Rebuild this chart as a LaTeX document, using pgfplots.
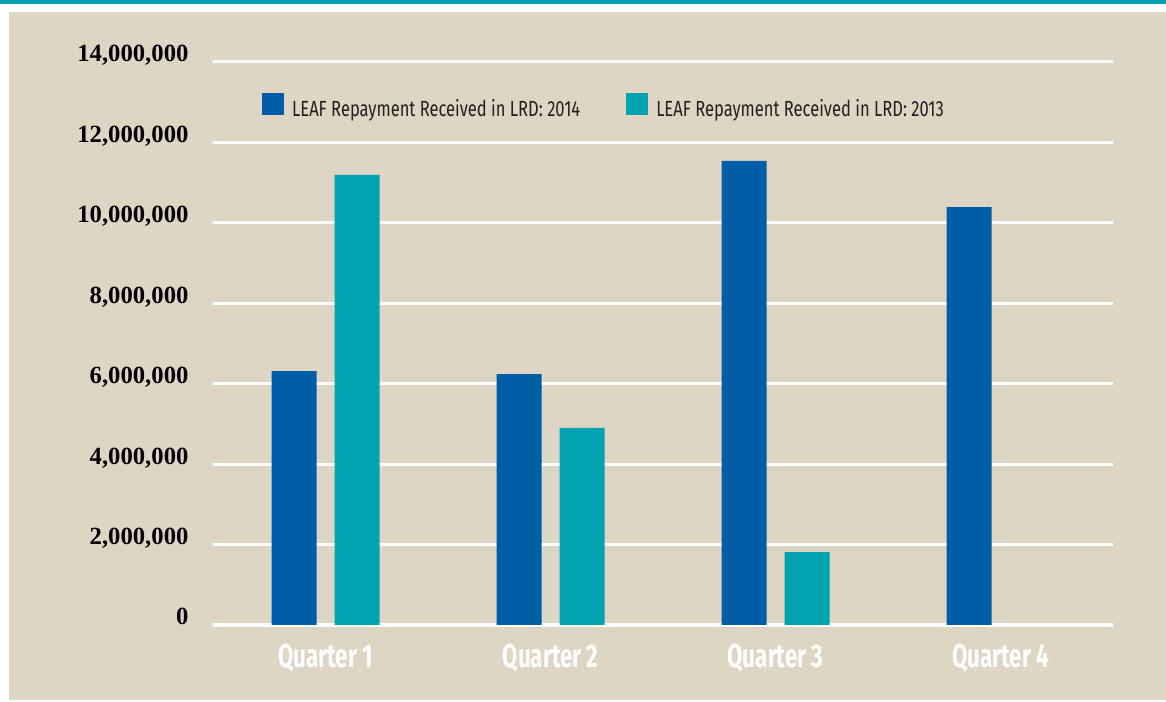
\documentclass[border=0pt]{standalone}
\usepackage{fontspec}
\setmainfont{Liberation Serif}
\newfontfamily\condfont[FakeStretch=0.755]{Fira Sans}
\newfontfamily\condbold[FakeStretch=0.68]{Fira Sans}
\usepackage{pgfplots}
\pgfplotsset{compat=1.18}

\definecolor{beige}{RGB}{222,214,196}
\definecolor{leafblue}{RGB}{0,94,168}
\definecolor{leafteal}{RGB}{0,163,175}
\definecolor{txt}{RGB}{35,31,32}

\begin{document}
\begin{tikzpicture}
\useasboundingbox (0,0) rectangle (1166bp,702bp);
% frame
\fill[leafteal] (0,697.5bp) rectangle (1166bp,702bp);
\fill[beige] (9bp,2bp) rectangle (1166bp,690bp);

\begin{axis}[
  scale only axis, width=900bp, height=563bp,
  at={(213bp,77bp)}, anchor=south west,
  axis line style={draw=none},
  xmin=-0.5, xmax=3.5, ymin=0, ymax=14000000,
  xtick={0,1,2,3},
  xticklabels={Quarter 1,Quarter 2,Quarter 3,Quarter 4},
  ytick={0,2000000,4000000,6000000,8000000,10000000,12000000,14000000},
  scaled y ticks=false,
  /pgf/number format/.cd, fixed, 1000 sep={,}, assume math mode=true,
  /pgfplots/.cd,
  ymajorgrids,
  major grid style={white, line width=3bp},
  major tick length=0pt,
  tick style={draw=none},
  yticklabel style={anchor=base east, xshift=-21bp, yshift=0bp,
    font=\fontsize{24.8}{24.8}\selectfont\bfseries, text=black},
  xticklabel style={anchor=base, yshift=-42bp,
    font=\condbold\fontsize{33}{33}\selectfont\bfseries, text=white},
  ybar, bar width=45bp,
  legend columns=2,
  legend style={at={(0.0544,0.900)}, anchor=south west, draw=none, fill=none,
    inner sep=0pt, font=\condfont\fontsize{22}{22}\selectfont, text=txt,
    nodes={inner sep=0pt},
    /tikz/every odd column/.append style={column sep=8bp},
    /tikz/every even column/.append style={column sep=46bp}},
  legend image code/.code={\fill[#1, draw=none] (0bp,-6bp) rectangle (22bp,16bp);},
]
\addplot[fill=leafblue, draw=none, bar shift=-31.5bp] coordinates
  {(0,6316000) (1,6240000) (2,11540000) (3,10390000)};
\addplot[fill=leafteal, draw=none, bar shift=31.5bp] coordinates
  {(0,11190000) (1,4900000) (2,1815000)};
\legend{LEAF Repayment Received in LRD: 2014, LEAF Repayment Received in LRD: 2013}
\end{axis}
\end{tikzpicture}
\end{document}
